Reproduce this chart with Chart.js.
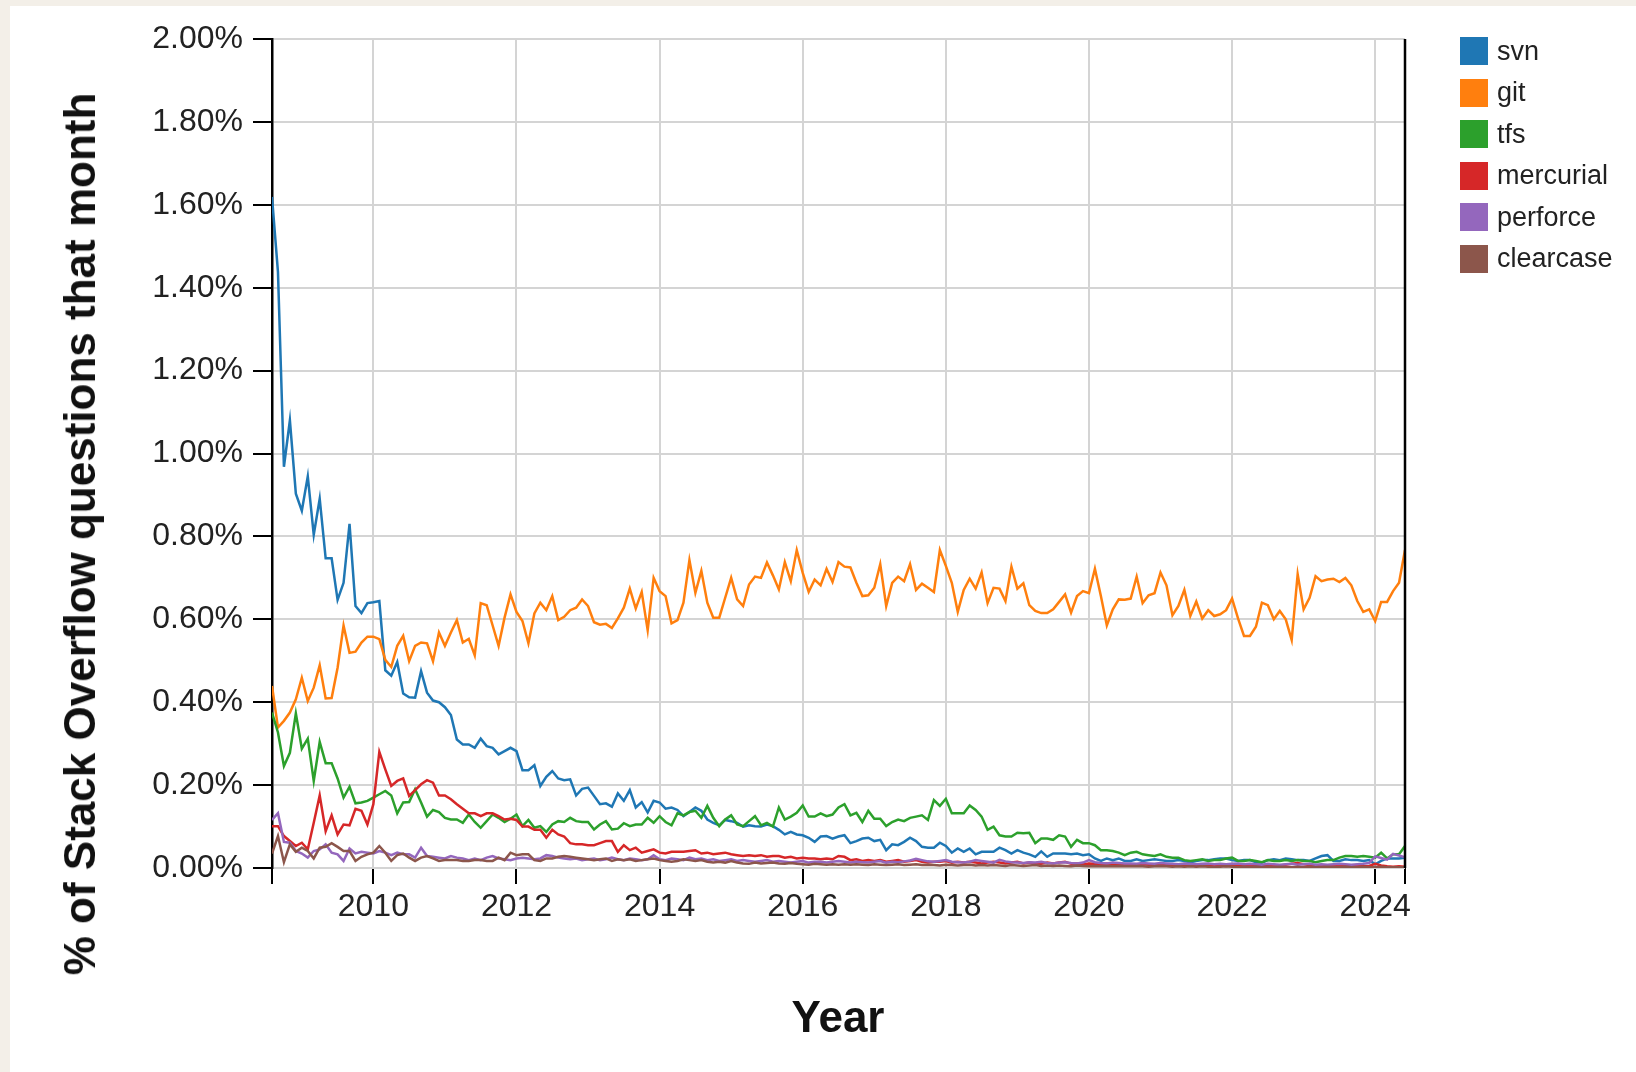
<!DOCTYPE html>
<html>
<head>
<meta charset="utf-8">
<title>Version control on Stack Overflow</title>
<script src="https://cdn.jsdelivr.net/npm/chart.js@4.4.1/dist/chart.umd.min.js"></script>
<style>
    html, body { margin: 0; padding: 0; }
    body {
        width: 1636px; height: 1072px; position: relative; overflow: hidden;
        background: #f3efe8;
        font-family: Arial, "Liberation Sans", sans-serif;
    }
    #card { position: absolute; left: 10px; top: 6px; right: 0; bottom: 0; background: #fff; }
    #chart { position: absolute; left: 0; top: 0; }
    .y-title {
        position: absolute; left: 80px; top: 534px;
        transform: translate(-50%, -50%) rotate(-90deg);
        font-weight: bold; font-size: 44px; white-space: nowrap; color: #111;
    }
    .x-title {
        position: absolute; left: 838px; top: 1017px;
        transform: translate(-50%, -50%);
        font-weight: bold; font-size: 44px; color: #111;
    }
    #legend { position: absolute; left: 1460px; top: 37px; }
    .item { display: flex; align-items: center; height: 28px; margin-bottom: 13.5px; font-size: 27px; color: #222; }
    .swatch { width: 28px; height: 28px; margin-right: 9px; }
</style>
</head>
<body>
<div id="card"></div>
<canvas id="chart" width="1636" height="1072"></canvas>
<div class="y-title">% of Stack Overflow questions that month</div>
<div class="x-title">Year</div>
<div id="legend"></div>

<script>
// Séries mensuelles, en % des questions du mois (août 2008 -> juin 2024)
const svn = [
    1.619, 1.438, 0.968, 1.080, 0.903, 0.862, 0.945, 0.804, 0.891, 0.747,
    0.747, 0.647, 0.688, 0.830, 0.632, 0.615, 0.639, 0.641, 0.644, 0.477,
    0.464, 0.497, 0.421, 0.412, 0.411, 0.475, 0.423, 0.404, 0.400, 0.388,
    0.369, 0.310, 0.298, 0.298, 0.290, 0.312, 0.294, 0.290, 0.274, 0.282,
    0.290, 0.282, 0.236, 0.236, 0.248, 0.198, 0.220, 0.234,
    0.216, 0.212, 0.214, 0.175, 0.191, 0.194, 0.174, 0.154, 0.156, 0.148,
    0.180, 0.162, 0.188, 0.146, 0.159, 0.134, 0.162, 0.158, 0.143, 0.146,
    0.140, 0.125, 0.135, 0.146, 0.138, 0.117, 0.109, 0.103, 0.116, 0.113,
    0.109, 0.100, 0.103, 0.101, 0.100, 0.105, 0.101, 0.092, 0.081, 0.087,
    0.081, 0.079, 0.073, 0.063, 0.076, 0.077, 0.071, 0.076,
    0.079, 0.060, 0.065, 0.071, 0.073, 0.065, 0.068, 0.043, 0.057, 0.055,
    0.063, 0.073, 0.065, 0.051, 0.049, 0.049, 0.061, 0.053, 0.037, 0.047,
    0.039, 0.047, 0.033, 0.039, 0.039, 0.039, 0.049, 0.043, 0.035, 0.043,
    0.037, 0.033, 0.027, 0.040, 0.027, 0.035, 0.035, 0.035, 0.033, 0.035,
    0.031, 0.033, 0.023, 0.017, 0.023, 0.019, 0.023, 0.017,
    0.017, 0.021, 0.017, 0.019, 0.021, 0.019, 0.017, 0.017, 0.019, 0.017,
    0.014, 0.017, 0.019, 0.019, 0.021, 0.023, 0.023, 0.019, 0.017, 0.019,
    0.019, 0.014, 0.013, 0.019, 0.021, 0.019, 0.023, 0.021, 0.019, 0.019,
    0.017, 0.023, 0.029, 0.031, 0.017, 0.017, 0.021, 0.019, 0.019, 0.017,
    0.019, 0.009, 0.017, 0.023, 0.023, 0.023, 0.025
];

const git = [
    0.439, 0.339, 0.355, 0.375, 0.407, 0.459, 0.403, 0.435, 0.489, 0.409,
    0.410, 0.483, 0.585, 0.519, 0.522, 0.544, 0.558, 0.558, 0.552, 0.502,
    0.485, 0.536, 0.560, 0.499, 0.536, 0.544, 0.542, 0.499, 0.568, 0.536,
    0.568, 0.598, 0.544, 0.553, 0.513, 0.639, 0.634, 0.585, 0.536, 0.604,
    0.660, 0.618, 0.596, 0.542, 0.614, 0.640, 0.622, 0.656,
    0.598, 0.606, 0.622, 0.628, 0.648, 0.632, 0.593, 0.587, 0.589, 0.579,
    0.602, 0.628, 0.674, 0.626, 0.666, 0.574, 0.700, 0.668, 0.656, 0.590,
    0.598, 0.640, 0.743, 0.664, 0.717, 0.640, 0.604, 0.604, 0.652, 0.700,
    0.648, 0.632, 0.684, 0.703, 0.700, 0.737, 0.706, 0.672, 0.738, 0.692,
    0.767, 0.712, 0.666, 0.696, 0.682, 0.722, 0.690, 0.738,
    0.727, 0.725, 0.688, 0.656, 0.658, 0.676, 0.733, 0.632, 0.688, 0.703,
    0.692, 0.733, 0.671, 0.686, 0.676, 0.666, 0.767, 0.729, 0.688, 0.618,
    0.671, 0.698, 0.674, 0.713, 0.639, 0.676, 0.674, 0.644, 0.727, 0.674,
    0.687, 0.634, 0.620, 0.615, 0.615, 0.624, 0.642, 0.660, 0.616, 0.656,
    0.668, 0.663, 0.722, 0.656, 0.585, 0.624, 0.648, 0.647,
    0.650, 0.703, 0.639, 0.658, 0.663, 0.713, 0.682, 0.610, 0.632, 0.671,
    0.608, 0.643, 0.602, 0.622, 0.608, 0.612, 0.622, 0.650, 0.602, 0.560,
    0.560, 0.582, 0.640, 0.634, 0.600, 0.620, 0.600, 0.550, 0.709, 0.624,
    0.652, 0.704, 0.692, 0.696, 0.698, 0.690, 0.700, 0.682, 0.644, 0.618,
    0.624, 0.596, 0.642, 0.642, 0.668, 0.688, 0.767
];

const tfs = [
    0.375, 0.327, 0.246, 0.278, 0.373, 0.288, 0.312, 0.210, 0.304, 0.253,
    0.253, 0.216, 0.170, 0.196, 0.156, 0.158, 0.162, 0.170, 0.178, 0.186,
    0.175, 0.132, 0.158, 0.159, 0.190, 0.158, 0.124, 0.140, 0.135, 0.121,
    0.117, 0.117, 0.109, 0.129, 0.111, 0.097, 0.113, 0.129, 0.121, 0.111,
    0.119, 0.129, 0.101, 0.116, 0.097, 0.101, 0.087, 0.105,
    0.113, 0.111, 0.121, 0.113, 0.111, 0.111, 0.093, 0.105, 0.113, 0.093,
    0.095, 0.108, 0.101, 0.105, 0.105, 0.121, 0.109, 0.125, 0.111, 0.103,
    0.132, 0.127, 0.135, 0.138, 0.121, 0.150, 0.121, 0.101, 0.117, 0.127,
    0.105, 0.101, 0.113, 0.125, 0.103, 0.109, 0.100, 0.146, 0.117, 0.124,
    0.133, 0.151, 0.124, 0.124, 0.132, 0.125, 0.129, 0.146,
    0.154, 0.127, 0.133, 0.111, 0.138, 0.119, 0.119, 0.101, 0.111, 0.117,
    0.113, 0.121, 0.124, 0.127, 0.116, 0.164, 0.150, 0.167, 0.132, 0.132,
    0.132, 0.151, 0.140, 0.124, 0.092, 0.100, 0.079, 0.076, 0.076, 0.085,
    0.084, 0.085, 0.060, 0.071, 0.071, 0.068, 0.079, 0.076, 0.051, 0.068,
    0.060, 0.060, 0.055, 0.043, 0.043, 0.041, 0.037, 0.031,
    0.037, 0.039, 0.033, 0.031, 0.029, 0.033, 0.027, 0.025, 0.025, 0.019,
    0.017, 0.019, 0.021, 0.017, 0.019, 0.019, 0.023, 0.025, 0.017, 0.017,
    0.019, 0.017, 0.014, 0.019, 0.017, 0.017, 0.019, 0.017, 0.019, 0.017,
    0.017, 0.014, 0.017, 0.019, 0.019, 0.025, 0.029, 0.029, 0.027, 0.029,
    0.027, 0.025, 0.037, 0.023, 0.033, 0.033, 0.053
];

const mercurial = [
    0.101, 0.101, 0.077, 0.065, 0.053, 0.061, 0.045, 0.109, 0.175, 0.089,
    0.127, 0.081, 0.105, 0.103, 0.143, 0.138, 0.105, 0.154, 0.280, 0.238,
    0.198, 0.210, 0.216, 0.174, 0.188, 0.202, 0.212, 0.206, 0.175, 0.175,
    0.166, 0.154, 0.143, 0.132, 0.132, 0.125, 0.132, 0.132, 0.125, 0.117,
    0.119, 0.116, 0.100, 0.100, 0.092, 0.092, 0.073, 0.092,
    0.081, 0.076, 0.060, 0.057, 0.057, 0.055, 0.055, 0.060, 0.065, 0.065,
    0.039, 0.055, 0.043, 0.049, 0.037, 0.041, 0.045, 0.037, 0.035, 0.039,
    0.039, 0.039, 0.041, 0.043, 0.035, 0.037, 0.033, 0.035, 0.037, 0.033,
    0.031, 0.029, 0.031, 0.029, 0.031, 0.027, 0.029, 0.029, 0.025, 0.027,
    0.023, 0.025, 0.023, 0.023, 0.021, 0.023, 0.021, 0.029,
    0.027, 0.019, 0.021, 0.017, 0.019, 0.017, 0.019, 0.015, 0.017, 0.019,
    0.015, 0.017, 0.019, 0.015, 0.013, 0.015, 0.015, 0.017, 0.013, 0.015,
    0.013, 0.015, 0.013, 0.011, 0.013, 0.015, 0.013, 0.011, 0.013, 0.015,
    0.011, 0.013, 0.011, 0.010, 0.013, 0.011, 0.013, 0.015, 0.010, 0.011,
    0.009, 0.011, 0.010, 0.009, 0.011, 0.009, 0.010, 0.009,
    0.009, 0.008, 0.009, 0.008, 0.007, 0.008, 0.007, 0.008, 0.007, 0.006,
    0.007, 0.006, 0.007, 0.006, 0.007, 0.006, 0.005, 0.006, 0.005, 0.006,
    0.007, 0.006, 0.005, 0.006, 0.005, 0.006, 0.008, 0.010, 0.012, 0.009,
    0.007, 0.006, 0.005, 0.006, 0.005, 0.006, 0.005, 0.004, 0.005, 0.004,
    0.005, 0.010, 0.006, 0.004, 0.003, 0.004, 0.003
];

const perforce = [
    0.116, 0.132, 0.063, 0.061, 0.041, 0.035, 0.025, 0.041, 0.045, 0.057,
    0.037, 0.033, 0.017, 0.047, 0.035, 0.039, 0.037, 0.035, 0.041, 0.037,
    0.031, 0.037, 0.033, 0.033, 0.025, 0.049, 0.029, 0.027, 0.025, 0.023,
    0.029, 0.025, 0.023, 0.019, 0.023, 0.019, 0.025, 0.029, 0.023, 0.021,
    0.019, 0.023, 0.025, 0.023, 0.021, 0.023, 0.031, 0.029,
    0.025, 0.023, 0.021, 0.023, 0.019, 0.021, 0.023, 0.019, 0.021, 0.025,
    0.021, 0.019, 0.023, 0.021, 0.019, 0.021, 0.031, 0.021, 0.019, 0.023,
    0.021, 0.019, 0.025, 0.021, 0.023, 0.019, 0.021, 0.017, 0.019, 0.021,
    0.017, 0.019, 0.017, 0.015, 0.017, 0.019, 0.015, 0.017, 0.015, 0.013,
    0.015, 0.017, 0.013, 0.015, 0.015, 0.013, 0.015, 0.017,
    0.015, 0.013, 0.015, 0.014, 0.013, 0.015, 0.017, 0.013, 0.015, 0.014,
    0.016, 0.018, 0.022, 0.019, 0.016, 0.015, 0.017, 0.019, 0.015, 0.014,
    0.013, 0.015, 0.019, 0.017, 0.015, 0.013, 0.020, 0.016, 0.014, 0.013,
    0.012, 0.014, 0.013, 0.015, 0.012, 0.011, 0.013, 0.014, 0.012, 0.011,
    0.013, 0.019, 0.014, 0.012, 0.011, 0.013, 0.012, 0.011,
    0.011, 0.010, 0.012, 0.011, 0.010, 0.012, 0.011, 0.010, 0.009, 0.011,
    0.010, 0.009, 0.010, 0.011, 0.009, 0.010, 0.009, 0.010, 0.011, 0.009,
    0.010, 0.009, 0.008, 0.010, 0.009, 0.008, 0.009, 0.010, 0.008, 0.009,
    0.010, 0.008, 0.009, 0.008, 0.009, 0.010, 0.009, 0.008, 0.009, 0.010,
    0.012, 0.028, 0.024, 0.020, 0.034, 0.030, 0.026
];

const clearcase = [
    0.035, 0.077, 0.014, 0.057, 0.039, 0.049, 0.041, 0.023, 0.049, 0.051,
    0.060, 0.051, 0.041, 0.041, 0.017, 0.027, 0.033, 0.037, 0.053, 0.037,
    0.017, 0.031, 0.035, 0.025, 0.017, 0.025, 0.029, 0.023, 0.017, 0.019,
    0.019, 0.019, 0.017, 0.017, 0.019, 0.019, 0.017, 0.017, 0.025, 0.019,
    0.037, 0.031, 0.033, 0.033, 0.019, 0.017, 0.023, 0.023,
    0.027, 0.029, 0.027, 0.025, 0.023, 0.021, 0.019, 0.021, 0.023, 0.017,
    0.021, 0.019, 0.021, 0.017, 0.019, 0.021, 0.023, 0.019, 0.017, 0.015,
    0.017, 0.021, 0.019, 0.017, 0.019, 0.015, 0.013, 0.015, 0.013, 0.017,
    0.013, 0.011, 0.010, 0.013, 0.011, 0.012, 0.013, 0.011, 0.010, 0.012,
    0.010, 0.009, 0.008, 0.010, 0.009, 0.008, 0.009, 0.008,
    0.009, 0.008, 0.009, 0.008, 0.007, 0.009, 0.008, 0.007, 0.008, 0.009,
    0.007, 0.008, 0.009, 0.007, 0.008, 0.007, 0.006, 0.008, 0.007, 0.006,
    0.007, 0.008, 0.006, 0.007, 0.006, 0.007, 0.006, 0.005, 0.007, 0.006,
    0.005, 0.006, 0.007, 0.005, 0.006, 0.005, 0.006, 0.005, 0.004, 0.006,
    0.005, 0.004, 0.005, 0.004, 0.005, 0.004, 0.005, 0.004,
    0.004, 0.005, 0.004, 0.003, 0.004, 0.005, 0.004, 0.003, 0.004, 0.003,
    0.004, 0.003, 0.004, 0.003, 0.002, 0.003, 0.004, 0.003, 0.002, 0.003,
    0.002, 0.003, 0.002, 0.003, 0.002, 0.003, 0.002, 0.002, 0.003, 0.002,
    0.003, 0.002, 0.002, 0.003, 0.002, 0.002, 0.003, 0.002, 0.002, 0.003,
    0.002, 0.002, 0.003, 0.002, 0.002, 0.002, 0.002
];

const seriesNames = ['svn', 'git', 'tfs', 'mercurial', 'perforce', 'clearcase'];
const seriesColors = ['#1f77b4', '#ff7f0e', '#2ca02c', '#d62728', '#9467bd', '#8c564b'];
const seriesValues = [svn, git, tfs, mercurial, perforce, clearcase];

const yTicks = [0, 0.2, 0.4, 0.6, 0.8, 1.0, 1.2, 1.4, 1.6, 1.8, 2.0];
const xTicks = [2010, 2012, 2014, 2016, 2018, 2020, 2022, 2024];

// Axe temporel : un point par mois à partir d'août 2008
const firstYear = 2008, firstMonth = 8;
const months = git.map((_, i) => firstYear + (firstMonth - 1 + i) / 12);
const xMin = months[0];
const xMax = months[months.length - 1];

Chart.defaults.font.family = 'Arial, "Liberation Sans", sans-serif';

// Bordure noire à droite de la zone de tracé
const rightEdge = {
    id: 'rightEdge',
    afterDraw(chart) {
        const { ctx, chartArea } = chart;
        ctx.save();
        ctx.strokeStyle = '#000';
        ctx.lineWidth = 2.5;
        ctx.beginPath();
        ctx.moveTo(chartArea.right, chartArea.top);
        ctx.lineTo(chartArea.right, chartArea.bottom);
        ctx.stroke();
        ctx.restore();
    }
};

const isEnd = v => v === xMin || v === xMax;

new Chart(document.getElementById('chart').getContext('2d'), {
    type: 'line',
    data: {
        datasets: seriesNames.map((name, i) => ({
            label: name,
            data: seriesValues[i].map((v, j) => ({ x: months[j], y: v })),
            borderColor: seriesColors[i],
            backgroundColor: seriesColors[i],
            borderWidth: 2.5,
            pointRadius: 0,
            tension: 0,
            order: seriesNames.length - i
        }))
    },
    options: {
        responsive: false,
        animation: false,
        layout: { padding: { left: 0, top: 39, right: 231, bottom: 0 } },
        plugins: {
            legend: { display: false },
            tooltip: { enabled: false }
        },
        scales: {
            x: {
                type: 'linear',
                min: xMin,
                max: xMax,
                afterBuildTicks: axis => {
                    axis.ticks = [xMin, ...xTicks, xMax].map(v => ({ value: v }));
                },
                afterFit: scale => { scale.height = 204; },
                ticks: {
                    autoSkip: false,
                    maxRotation: 0,
                    padding: 4,
                    color: '#222',
                    font: { size: 32 },
                    callback: v => (isEnd(v) ? '' : String(v))
                },
                grid: {
                    color: ctx => (ctx.tick && isEnd(ctx.tick.value) ? 'rgba(0,0,0,0)' : '#d4d4d4'),
                    lineWidth: 2,
                    tickColor: '#000',
                    tickLength: 16,
                    tickWidth: 2
                },
                border: { display: false }
            },
            y: {
                min: 0,
                max: 2,
                afterBuildTicks: axis => {
                    axis.ticks = yTicks.map(v => ({ value: v }));
                },
                afterFit: scale => { scale.width = 272; },
                ticks: {
                    padding: 10,
                    color: '#222',
                    font: { size: 32 },
                    callback: v => v.toFixed(2) + '%'
                },
                grid: {
                    color: '#d4d4d4',
                    lineWidth: 2,
                    tickColor: '#000',
                    tickLength: 19,
                    tickWidth: 2
                },
                border: { color: '#000', width: 2.5 }
            }
        }
    },
    plugins: [rightEdge]
});

// Légende HTML
const legend = document.getElementById('legend');
seriesNames.forEach((name, i) => {
    const item = document.createElement('div');
    item.className = 'item';
    item.innerHTML = `<span class="swatch" style="background:${seriesColors[i]}"></span>${name}`;
    legend.appendChild(item);
});
</script>
</body>
</html>
